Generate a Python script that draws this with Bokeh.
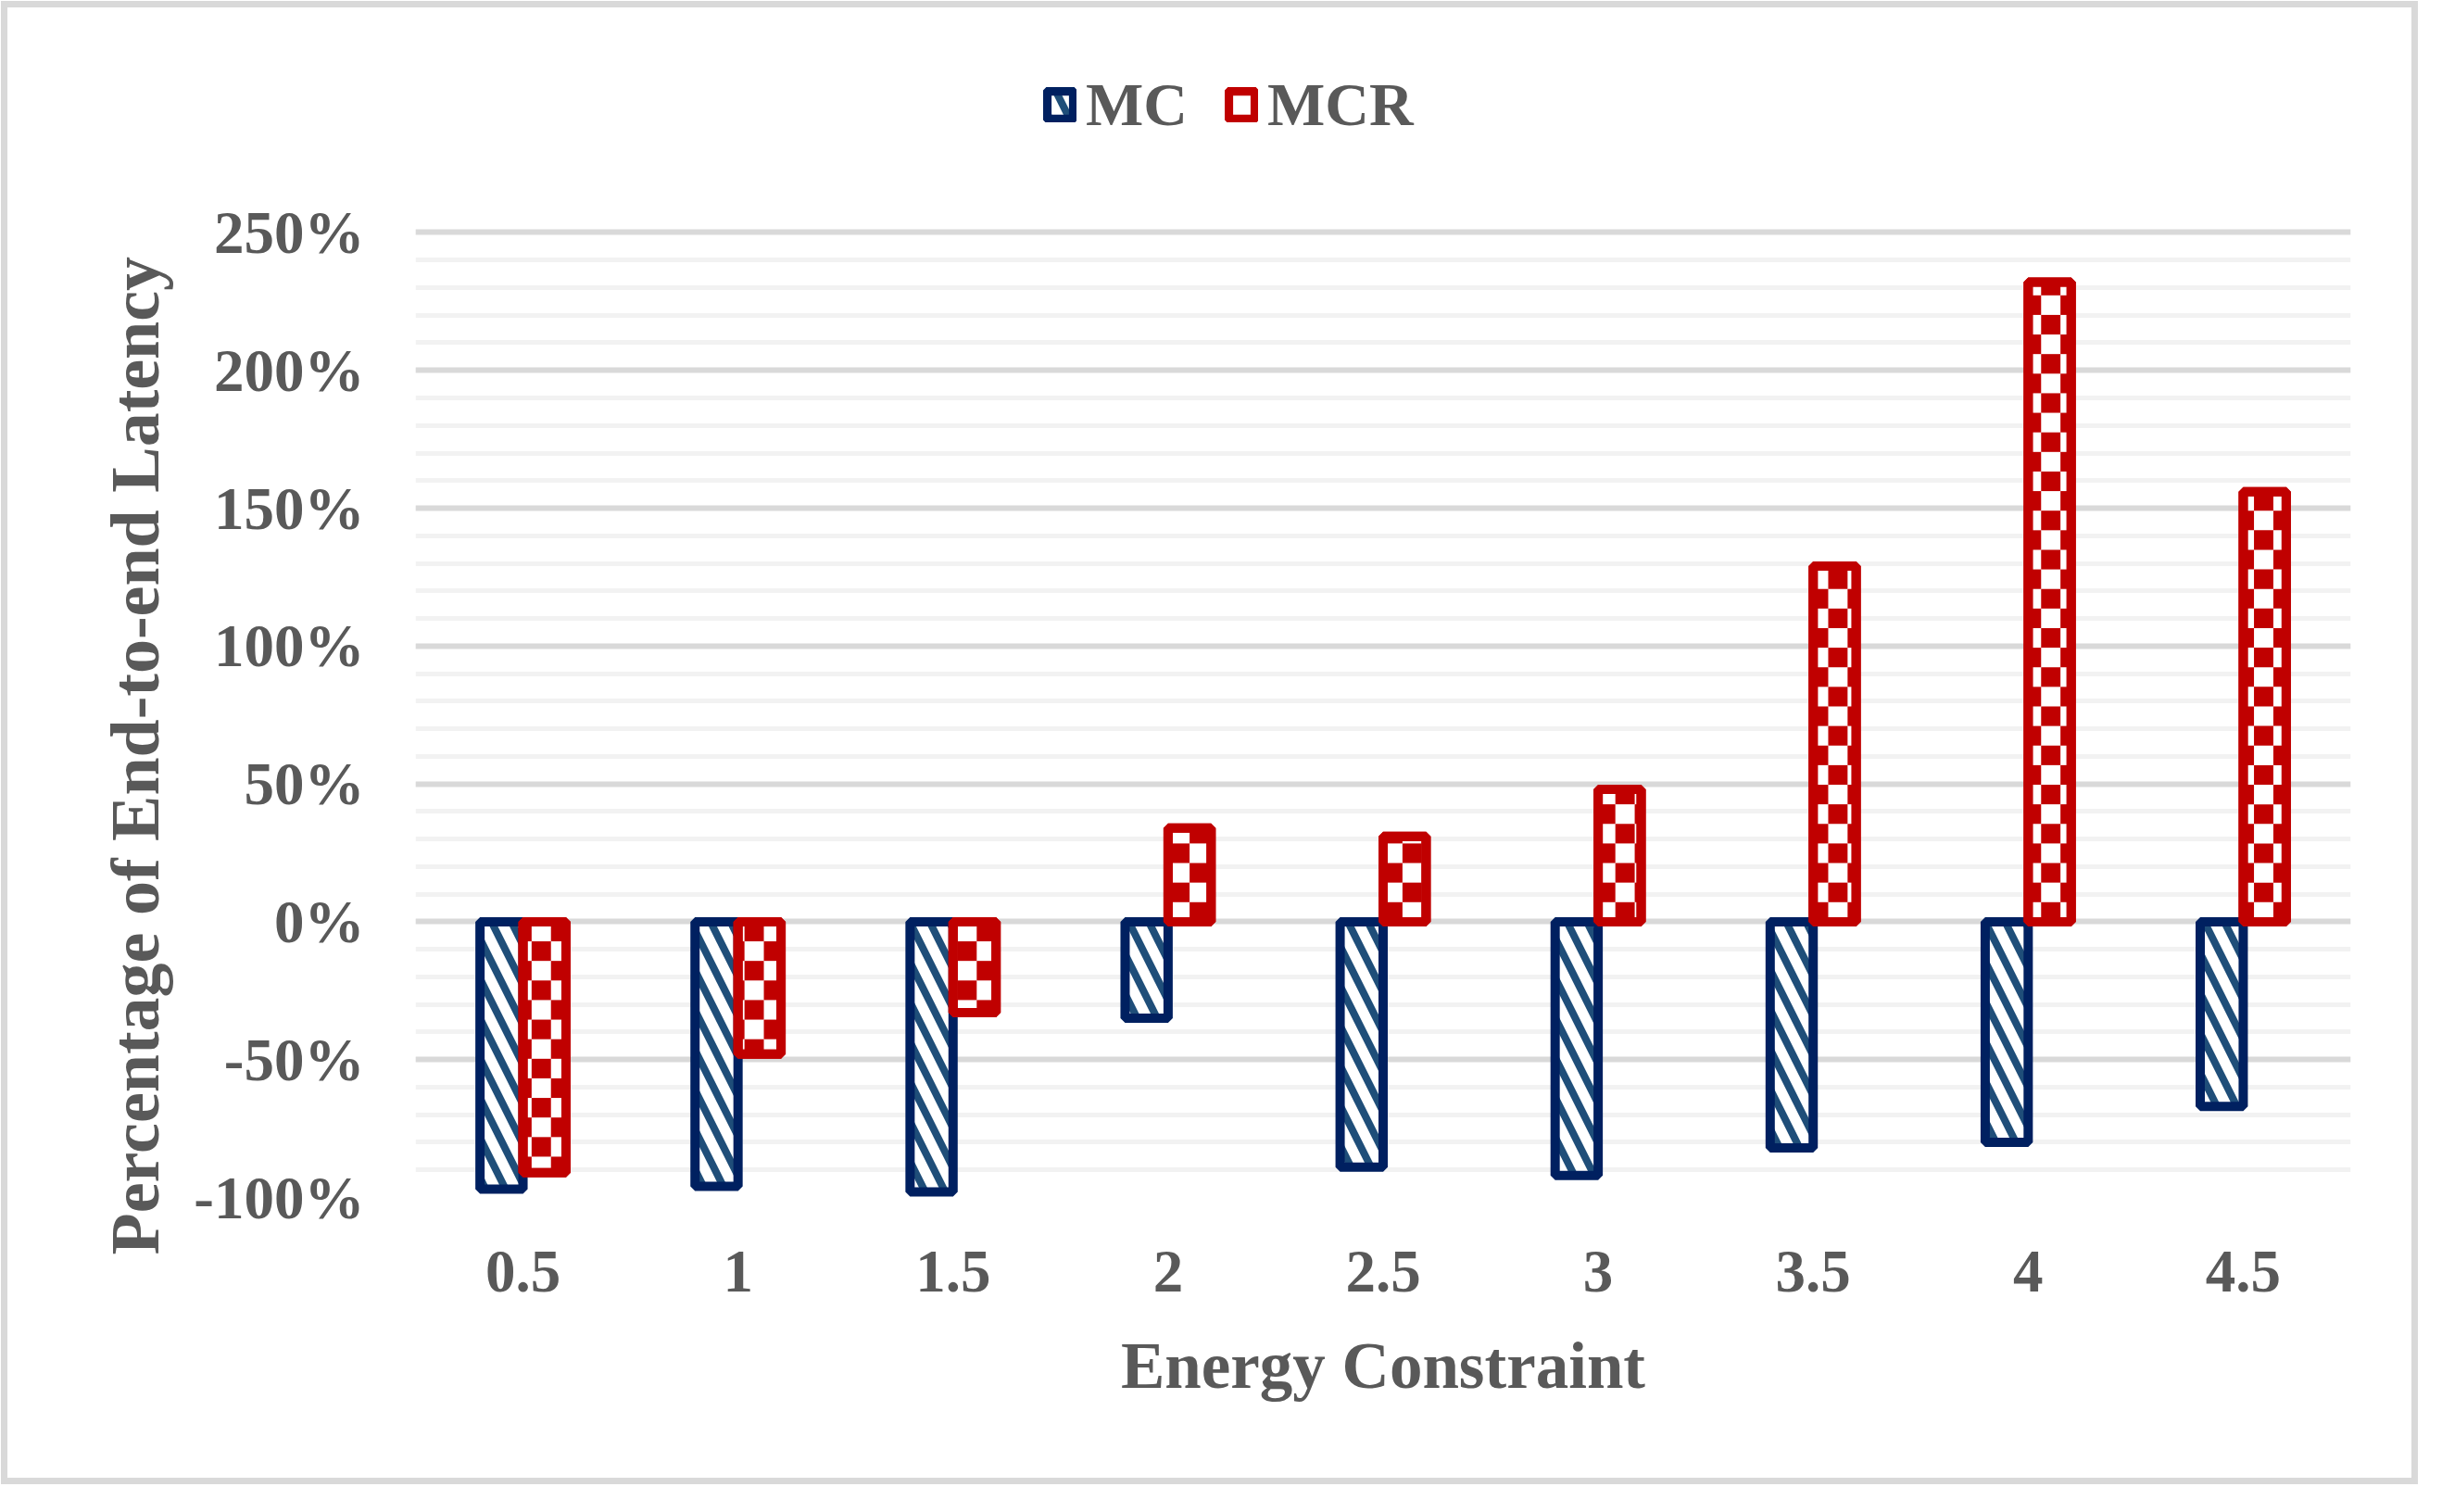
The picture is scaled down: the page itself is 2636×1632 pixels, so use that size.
import math
from bokeh.plotting import figure
from bokeh.models import (ColumnDataSource, Range1d, FixedTicker, PrintfTickFormatter,
                          Legend, LegendItem, Title)
from bokeh.embed import file_html
from bokeh.resources import INLINE

# ---- data ----
categories = ["0.5", "1", "1.5", "2", "2.5", "3", "3.5", "4", "4.5"]
mc_values = [-97, -96, -98, -35, -89, -92, -82, -80, -67]
mcr_values = [-91, -48, -33, 34, 31, 48, 129, 232, 156]
y_major_ticks = [-100, -50, 0, 50, 100, 150, 200, 250]
y_minor_ticks = [-100, -90, -80, -70, -60, -50, -40, -30, -20, -10, 0, 10, 20, 30, 40,
                 50, 60, 70, 80, 90, 100, 110, 120, 130, 140, 150, 160, 170, 180, 190,
                 200, 210, 220, 230, 240, 250]
series_names = ["MC", "MCR"]
x_title = "Energy Constraint"
y_title = "Percentage of End-to-end Latency"

FONT = "Liberation Serif"
TXT = "#595959"
NAVY = "#002060"
STRIPE = "#1F4E79"
RED = "#C00000"
BAR_W = 0.2

centers = [i + 0.5 for i in range(len(categories))]
mc_x = [c - BAR_W / 2 for c in centers]
mcr_x = [c + BAR_W / 2 for c in centers]

src = ColumnDataSource(dict(mc_x=mc_x, mcr_x=mcr_x, mc=mc_values, mcr=mcr_values))

# the frame reaches above the 250% line so the legend can sit inside it
p = figure(x_range=Range1d(0, len(categories)), y_range=Range1d(-100, 315),
           width=2611, height=1603,
           output_backend="svg", toolbar_location=None,
           min_border_left=448, min_border_right=74,
           min_border_top=57, min_border_bottom=311)
p.styles = {"box-shadow": "inset 0 0 0 1px white, inset 0 0 0 8px #D9D9D9"}
p.outline_line_color = None
p.background_fill_color = "white"
p.border_fill_alpha = 0

# MC bars: white with dark-blue border and downward diagonal stripes
r_mc = p.vbar(x="mc_x", top="mc", bottom=0, width=BAR_W, source=src,
              fill_color="white", line_color=NAVY, line_width=10,
              hatch_pattern="left_diagonal_line", hatch_color=STRIPE,
              hatch_scale=43, hatch_weight=8)

# MCR bars: white with red border plus a checkerboard of red cells
r_mcr = p.vbar(x="mcr_x", top="mcr", bottom=0, width=BAR_W, source=src,
               fill_color="white", line_color=RED, line_width=10)

cell_w = 0.09   # x units (pattern style)
cell_h = 7.1    # y units (pattern style)
cl, cr, cb, ct = [], [], [], []
for xc, v in zip(mcr_x, mcr_values):
    x0, x1 = xc - BAR_W / 2, xc + BAR_W / 2
    y0, y1 = min(0, v), max(0, v)
    for k in range(math.floor(x0 / cell_w), math.ceil(x1 / cell_w)):
        for j in range(math.floor(y0 / cell_h), math.ceil(y1 / cell_h)):
            if (k + j) % 2:
                continue
            l = max(x0, k * cell_w)
            r = min(x1, (k + 1) * cell_w)
            b = max(y0, j * cell_h)
            t = min(y1, (j + 1) * cell_h)
            if r > l and t > b:
                cl.append(l); cr.append(r); cb.append(b); ct.append(t)
p.quad(left=cl, right=cr, bottom=cb, top=ct, fill_color=RED, line_color=None)
p.vbar(x="mcr_x", top="mcr", bottom=0, width=BAR_W, source=src,
       fill_color=None, line_color=RED, line_width=10)

# grids
p.xgrid.grid_line_color = None
p.ygrid.grid_line_color = "#D9D9D9"
p.ygrid.grid_line_width = 6
p.ygrid.minor_grid_line_color = "#F2F2F2"
p.ygrid.minor_grid_line_width = 5
p.ygrid.level = "underlay"

# axes
p.xaxis.ticker = FixedTicker(ticks=centers)
p.xaxis.major_label_overrides = {c: lab for c, lab in zip(centers, categories)}
p.yaxis.ticker = FixedTicker(ticks=y_major_ticks, minor_ticks=y_minor_ticks)
p.yaxis.formatter = PrintfTickFormatter(format="%d%%")
for ax in (p.xaxis[0], p.yaxis[0]):
    ax.axis_line_color = None
    ax.major_tick_line_color = None
    ax.minor_tick_line_color = None
    ax.major_label_text_font = FONT
    ax.major_label_text_font_style = "bold"
    ax.major_label_text_font_size = "65px"
    ax.major_label_text_color = TXT
    ax.axis_label_text_font = FONT
    ax.axis_label_text_font_style = "bold"
    ax.axis_label_text_font_size = "71px"
    ax.axis_label_text_color = TXT

p.xaxis.axis_label = x_title
p.xaxis.major_label_standoff = 52
p.xaxis.axis_label_standoff = 38
p.yaxis.major_label_standoff = 49

p.add_layout(Title(text=y_title, align="left", offset=-62, standoff=40,
                   text_font=FONT, text_font_size="74px", text_font_style="bold",
                   text_color=TXT), "left")

legend = Legend(items=[LegendItem(label=series_names[0], renderers=[r_mc]),
                       LegendItem(label=series_names[1], renderers=[r_mcr])],
                orientation="horizontal", location=(678, 1141),
                label_text_font=FONT, label_text_font_style="bold",
                label_text_font_size="66px", label_text_color=TXT,
                glyph_width=36, glyph_height=38, label_standoff=10, spacing=40,
                padding=0, margin=0, border_line_color=None,
                background_fill_alpha=0)
p.add_layout(legend)

open("out.html", "w").write(file_html(p, INLINE))
